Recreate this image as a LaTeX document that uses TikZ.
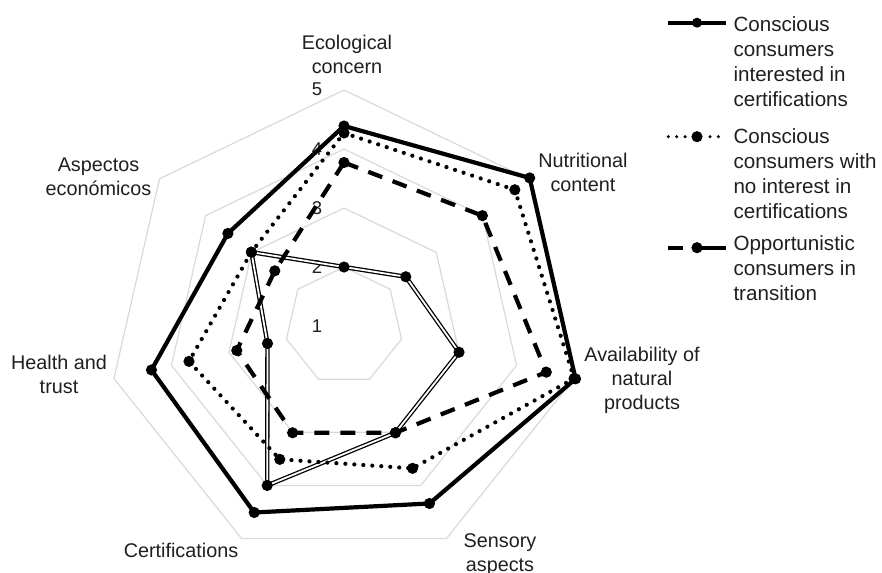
\documentclass[tikz,border=0pt]{standalone}
\usepackage{fontspec}
\setmainfont{Liberation Sans}
\usetikzlibrary{calc}
\begin{document}
\begin{tikzpicture}[x=1pt,y=1pt,
  gridring/.style={draw=black!15, line width=1.2pt},
  serA/.style={draw=black, line width=4.2pt, line join=round},
  serB/.style={draw=black, line width=4.2pt, dash pattern=on 0pt off 9pt, line cap=round},
  legB/.style={draw=black, line width=3.4pt, dash pattern=on 0pt off 8.4pt, line cap=round},
  serC/.style={draw=black, line width=4.2pt, dash pattern=on 15pt off 11pt},
  serD/.style={draw=black, double=white, line width=1.3pt, double distance=1.8pt, line join=round},
  axlabel/.style={font=\fontsize{19.8}{24}\selectfont, text=black!88, align=center, inner sep=0pt, anchor=north},
  ticklabel/.style={font=\fontsize{18.5}{22}\selectfont, text=black!88, inner sep=0pt},
  legtext/.style={font=\fontsize{20.6}{25}\selectfont, text=black!88, align=left, inner sep=0pt, anchor=north west},
  legline/.style={draw=black, line width=4.2pt}
]
\path[use as bounding box] (0,0) rectangle (882,-572);

\begin{scope}[shift={(344,-326)}]
  \coordinate (O) at (0,0);
  % grid rings
  \foreach \r in {59,118,177,236}{
    \draw[gridring] (90:\r) -- (38.571:\r) -- (-12.857:\r) -- (-64.286:\r) -- (-115.714:\r) -- (-167.143:\r) -- (141.429:\r) -- cycle;
  }
  % series A: conscious, interested in certifications
  \coordinate (a1) at (90:200);
  \coordinate (a2) at (38.571:237.5);
  \coordinate (a3) at (-12.857:237.5);
  \coordinate (a4) at (-64.286:197);
  \coordinate (a5) at (-115.714:207);
  \coordinate (a6) at (-167.143:197.5);
  \coordinate (a7) at (141.429:148.5);
  % series B: conscious, no interest
  \coordinate (b1) at (90:193);
  \coordinate (b2) at (38.571:218.5);
  \coordinate (b3) at (-12.857:236);
  \coordinate (b4) at (-64.286:158);
  \coordinate (b5) at (-115.714:148);
  \coordinate (b6) at (-167.143:159);
  \coordinate (b7) at (141.429:118.5);
  % series C: opportunistic
  \coordinate (c1) at (90:163.5);
  \coordinate (c2) at (38.571:177);
  \coordinate (c3) at (-12.857:207.5);
  \coordinate (c4) at (-64.286:118.5);
  \coordinate (c5) at (-115.714:118.5);
  \coordinate (c6) at (-167.143:110);
  \coordinate (c7) at (141.429:88.5);
  % series D: double line
  \coordinate (d1) at (90:59);
  \coordinate (d2) at (38.571:79);
  \coordinate (d3) at (-12.857:118);
  \coordinate (d4) at (-64.286:118.5);
  \coordinate (d5) at (-115.714:177);
  \coordinate (d6) at (-167.143:78.5);
  \coordinate (d7) at (141.429:118.5);
\end{scope}

% tick labels
\node[ticklabel] (t1) at (317,-326.5) {1};
\node[ticklabel] (t2) at (317,-267.5) {2};
\node[ticklabel] (t3) at (317,-208.5) {3};
\node[ticklabel] (t4) at (317,-149.5) {4};
\node[ticklabel] (t5) at (317,-89.7) {5};

% series lines
\draw[serD] (d1) -- (d2) -- (d3) -- (d4) -- (d5) -- (d6) -- (d7) -- cycle;
\draw[serC] (c1) -- (c2) -- (c3) -- (c4) -- (c5) -- (c6) -- (c7) -- cycle;
\draw[serB] (b1) -- (b2) -- (b3) -- (b4) -- (b5) -- (b6) -- (b7) -- cycle;
\draw[serA] (a1) -- (a2) -- (a3) -- (a4) -- (a5) -- (a6) -- (a7) -- cycle;
\foreach \s in {a,b,c,d}{
  \foreach \i in {1,...,7}{
    \fill[black] (\s\i) circle (5.6);
  }
}

% axis labels
\node[axlabel] (lEco) at (347,-35) {Ecological\\concern};
\node[axlabel] (lNut) at (583,-153) {Nutritional\\content};
\node[axlabel] (lAva) at (642,-347) {Availability of\\natural\\products};
\node[axlabel] (lSen) at (500,-533) {Sensory\\aspects};
\node[axlabel] (lCer) at (181,-543) {Certifications};
\node[axlabel] (lHea) at (59,-355) {Health and\\trust};
\node[axlabel] (lAsp) at (98.5,-158) {Aspectos\\económicos};

% legend
\coordinate (gA1) at (668,-22.7);
\coordinate (gA2) at (726,-22.7);
\coordinate (gAm) at (697,-22.7);
\draw[legline] (gA1) -- (gA2);
\fill[black] (gAm) circle (5);
\node[legtext] (tA) at (733.3,-16.7) {Conscious\\consumers\\interested in\\certifications};

\coordinate (gB1) at (668.3,-136.7);
\coordinate (gB2) at (686,-136.7);
\coordinate (gB3) at (710,-136.7);
\coordinate (gB4) at (719,-136.7);
\coordinate (gBm) at (697,-136.7);
\draw[legB] (gB1) -- (gB2);
\draw[legB] (gB3) -- (gB4);
\fill[black] (gBm) circle (5.6);
\node[legtext] (tB) at (733.3,-128.3) {Conscious\\consumers with\\no interest in\\certifications};

\coordinate (gC1) at (668,-247.7);
\coordinate (gC2) at (683,-247.7);
\coordinate (gC3) at (700,-247.7);
\coordinate (gC4) at (726,-247.7);
\coordinate (gCm) at (697,-247.7);
\draw[legline] (gC1) -- (gC2);
\draw[legline] (gC3) -- (gC4);
\fill[black] (gCm) circle (5.6);
\node[legtext] (tC) at (733.3,-235) {Opportunistic\\consumers in\\transition};
\end{tikzpicture}
\end{document}
